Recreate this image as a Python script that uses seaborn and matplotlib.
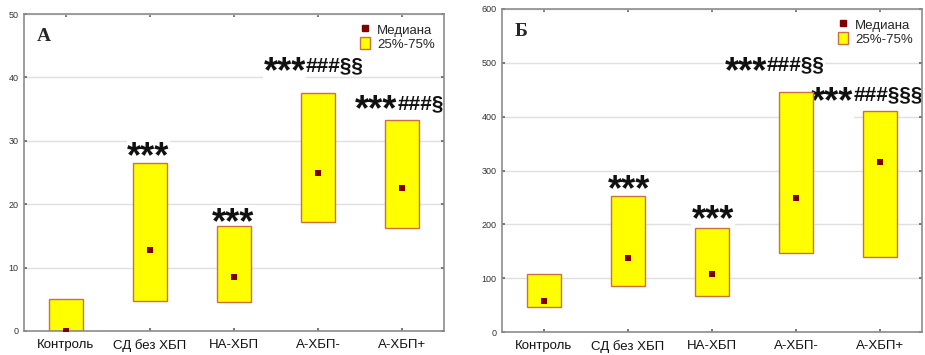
import matplotlib
matplotlib.use("Agg")
import matplotlib.pyplot as plt
from matplotlib.lines import Line2D
from matplotlib.patches import Patch
import seaborn as sns
import pandas as pd

groups = ["Контроль", "СД без ХБП", "НА-ХБП", "А-ХБП-", "А-ХБП+"]

# panel A
a_q1 = [0, 4.7, 4.5, 17.2, 16.2]
a_q3 = [5, 26.5, 16.5, 37.5, 33.3]
a_med = [0, 12.7, 8.5, 25, 22.5]
a_marks = ["", "***", "***", "***###§§", "***###§"]
# left edge / baseline of the significance marks
a_mark_x = [None, 0.73, 1.74, 2.35, 3.44]
a_mark_y = [None, 25.9, 15.5, 39.2, 33.2]

# panel B
b_q1 = [46, 86, 67, 147, 139]
b_q3 = [107, 253, 193, 446, 411]
b_med = [58, 137, 107, 248, 315]
b_marks = ["", "***", "***", "***###§§", "***###§§§"]
b_mark_x = [None, 0.76, 1.76, 2.15, 3.18]
b_mark_y = [None, 244, 189, 464, 408]

sns.set_theme(style="white")
plt.rcParams["font.family"] = ["Liberation Sans", "DejaVu Sans"]

fig = plt.figure(figsize=(9.25, 3.55), dpi=100)
ax1 = fig.add_axes([24 / 925, 24 / 355, 420 / 925, 317 / 355])
ax2 = fig.add_axes([502 / 925, 23 / 355, 420 / 925, 323 / 355])

yellow = "#ffff00"
edge = "#cc7040"
dark = "#800000"
white_box = dict(facecolor="white", edgecolor="none", pad=0.3)


def panel(ax, q1, q3, med, marks, mark_x, mark_y, ymax, step, letter):
    df = pd.DataFrame({"group": groups, "q1": q1, "q3": q3, "med": med})
    df["h"] = df["q3"] - df["q1"]
    sns.barplot(data=df, x="group", y="h", bottom=df["q1"], order=groups,
                color=yellow, saturation=1, width=0.4, edgecolor=edge,
                linewidth=1, ax=ax, zorder=2)
    sns.scatterplot(data=df, x="group", y="med", marker="s", s=14,
                    color=dark, edgecolor=dark, linewidth=0, ax=ax, zorder=3)
    ax.set_xlim(-0.5, 4.5)
    ax.set_ylim(0, ymax)
    ax.set_yticks(range(0, ymax + 1, step))
    ax.yaxis.grid(True, color="#e0e0e0", linewidth=1, zorder=0)
    ax.set_axisbelow(True)
    ax.set_xlabel("")
    ax.set_ylabel("")
    for s in ax.spines.values():
        s.set_color("#8c8c8c")
        s.set_linewidth(1.2)
    ax.tick_params(axis="y", labelsize=6.5, labelcolor="#333333", length=2,
                   pad=4, left=True, right=True, direction="in", color="#666666")
    ax.tick_params(axis="x", labelsize=9.5, labelcolor="#111111", length=2,
                   pad=6, bottom=True, top=True, direction="in", color="#666666")
    for t, x, y in zip(marks, mark_x, mark_y):
        if not t:
            continue
        stars = t[:3]
        rest = t[3:]
        # drawn under the bars, white box hides the grid behind the text
        st = ax.text(x, y, stars, ha="left", va="baseline", fontsize=26,
                     fontweight="bold", color="#111111", zorder=1.5,
                     bbox=white_box)
        if rest:
            ax.annotate(rest, xy=(1, 0), xycoords=st, xytext=(0, 11.2),
                        textcoords="offset points", ha="left", va="bottom",
                        fontsize=15, fontweight="bold", color="#111111",
                        zorder=1.5, annotation_clip=False, bbox=white_box)
    ax.text(0.03, 0.93, letter, transform=ax.transAxes, fontsize=14,
            fontweight="bold", family=["Liberation Serif", "DejaVu Serif"],
            ha="left", va="center")
    handles = [
        Line2D([], [], marker="s", linestyle="", color=dark, markersize=4),
        Patch(facecolor=yellow, edgecolor=edge, linewidth=1),
    ]
    ax.legend(handles, ["Медиана", "25%-75%"], loc="upper right",
              frameon=False, fontsize=9.5, handlelength=0.8, handleheight=1.0,
              handletextpad=0.5, labelspacing=0.05, borderaxespad=0.3)


panel(ax1, a_q1, a_q3, a_med, a_marks, a_mark_x, a_mark_y, 50, 10, "А")
panel(ax2, b_q1, b_q3, b_med, b_marks, b_mark_x, b_mark_y, 600, 100, "Б")

fig.savefig("out.png", dpi=100, facecolor="white")
